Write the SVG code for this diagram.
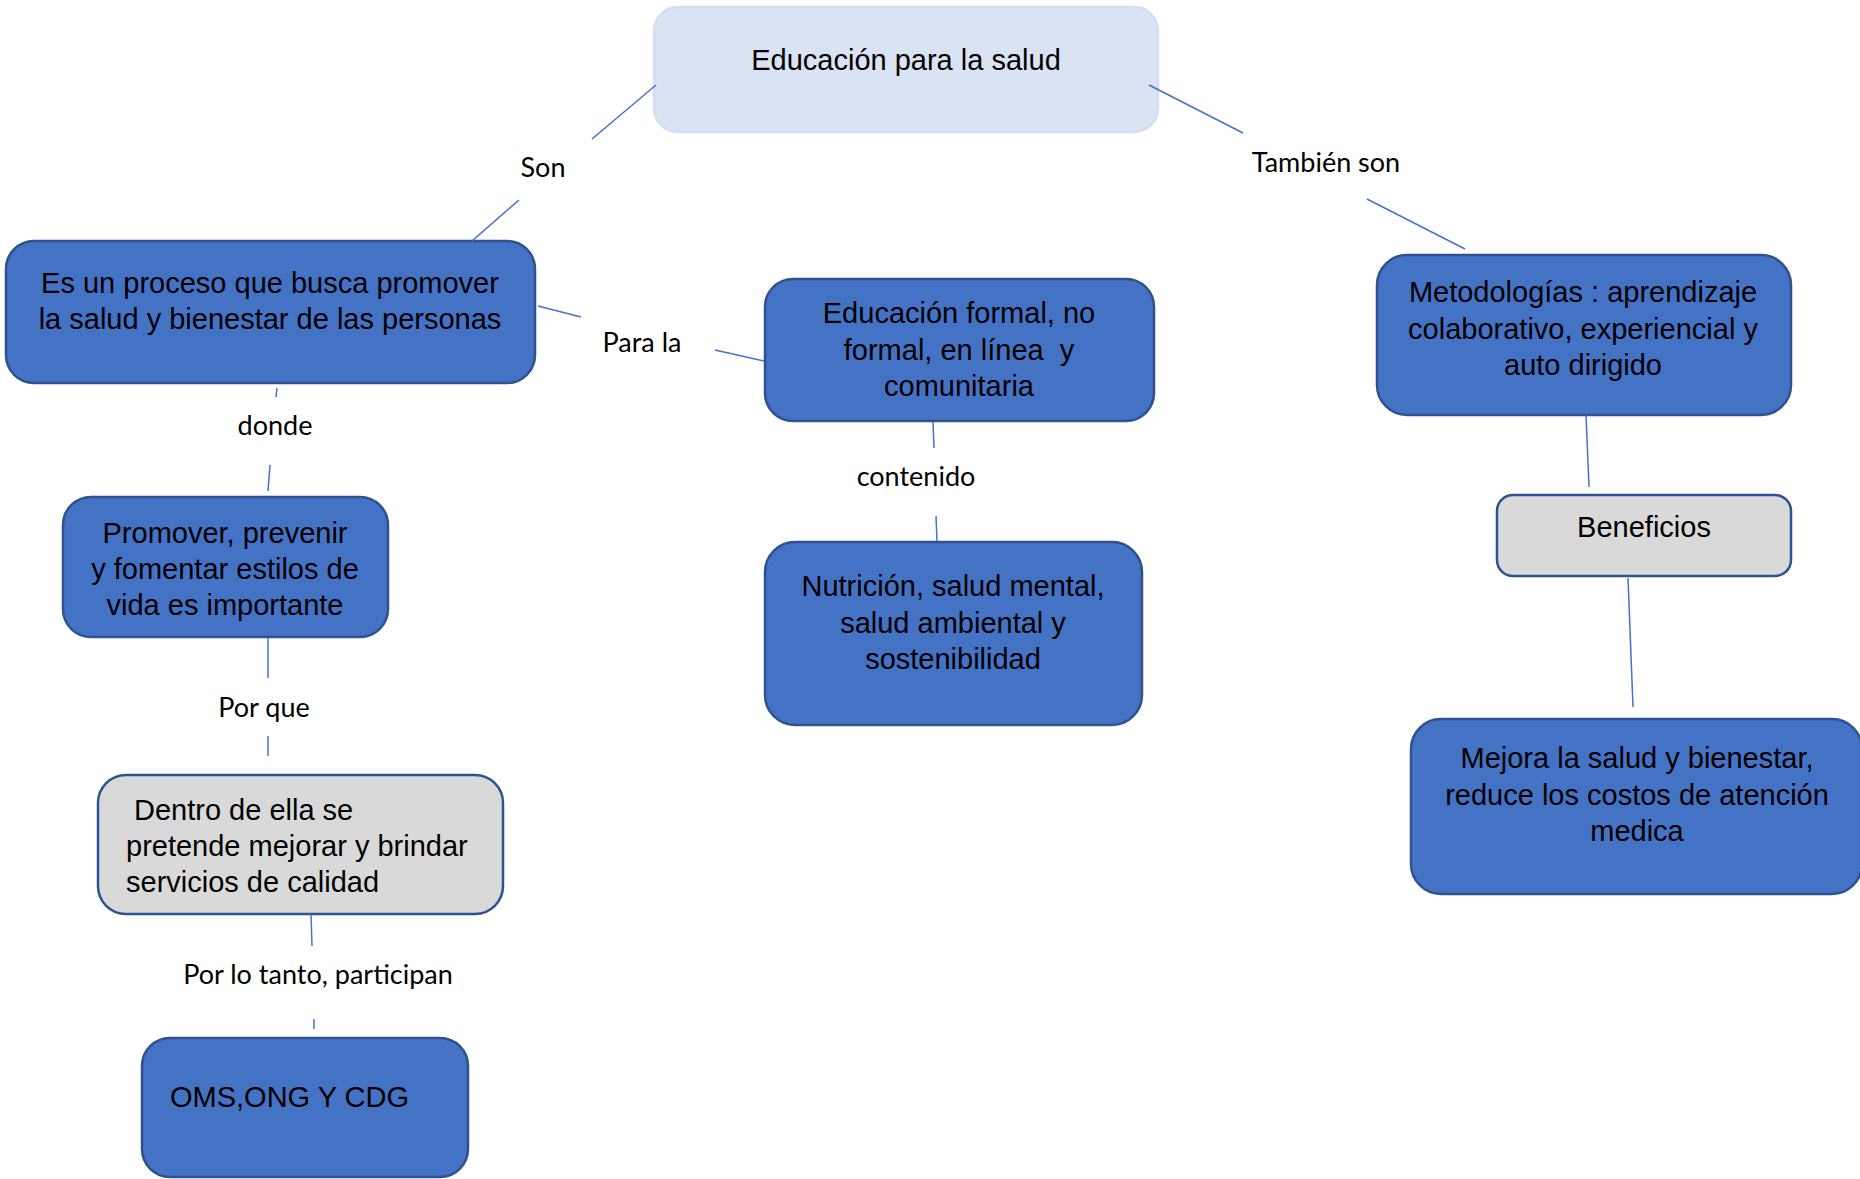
<svg xmlns="http://www.w3.org/2000/svg" width="1860" height="1179" viewBox="0 0 1860 1179">
<style>
.box{fill:#4472c4;stroke:#2f528f;stroke-width:2.5}
.gray{fill:#d9d9d9;stroke:#2f528f;stroke-width:2.5}
.top{fill:#dae3f3;stroke:#d3def2;stroke-width:2.5}
.t{font-family:"Liberation Sans",Arial,sans-serif;font-size:29px;fill:#000;text-anchor:middle}
.ts{font-family:"Liberation Sans",Arial,sans-serif;font-size:29px;fill:#000}
.lbl{font-family:Lato,"Open Sans",sans-serif;font-size:27px;fill:#000;text-anchor:middle}
.c line{stroke:#4472c4;stroke-width:1.5}
</style>
<rect width="1860" height="1179" fill="#fff"/>
<g id="labels">
<text class="lbl" x="543" y="177">Son</text>
<text class="lbl" x="1326" y="172">También son</text>
<text class="lbl" x="642" y="352">Para la</text>
<text class="lbl" x="275" y="435">donde</text>
<text class="lbl" x="264" y="717">Por que</text>
<text class="lbl" x="318" y="984">Por lo tanto, participan</text>
<text class="lbl" x="916" y="486">contenido</text>
</g>
<g id="n1">
<rect class="top" x="654" y="7" width="504" height="125" rx="24"/>
<text class="t" x="906" y="70">Educación para la salud</text>
</g>
<g id="n2">
<rect class="box" x="6" y="241" width="529" height="142" rx="28"/>
<text class="t" x="270" y="293">Es un proceso que busca promover</text>
<text class="t" x="270" y="329">la salud y bienestar de las personas</text>
</g>
<g id="n3">
<rect class="box" x="63" y="497" width="325" height="140" rx="28"/>
<text class="t" x="225" y="543">Promover, prevenir</text>
<text class="t" x="225" y="579">y fomentar estilos de</text>
<text class="t" x="225" y="615">vida es importante</text>
</g>
<g id="n4">
<rect class="gray" x="98" y="775" width="405" height="139" rx="28"/>
<text class="ts" x="134" y="820">Dentro de ella se</text>
<text class="ts" x="126" y="856">pretende mejorar y brindar</text>
<text class="ts" x="126" y="892">servicios de calidad</text>
</g>
<g id="n5">
<rect class="box" x="142" y="1038" width="326" height="139" rx="28"/>
<text class="ts" x="170" y="1107">OMS,ONG Y CDG</text>
</g>
<g id="n6">
<rect class="box" x="765" y="279" width="389" height="142" rx="28"/>
<text class="t" x="959" y="323">Educación formal, no</text>
<text class="t" x="959" y="360" xml:space="preserve">formal, en línea  y</text>
<text class="t" x="959" y="396">comunitaria</text>
</g>
<g id="n7">
<rect class="box" x="765" y="542" width="377" height="183" rx="30"/>
<text class="t" x="953" y="596">Nutrición, salud mental,</text>
<text class="t" x="953" y="633">salud ambiental y</text>
<text class="t" x="953" y="669">sostenibilidad</text>
</g>
<g id="n8">
<rect class="box" x="1377" y="255" width="414" height="160" rx="30"/>
<text class="t" x="1583" y="302">Metodologías : aprendizaje</text>
<text class="t" x="1583" y="339">colaborativo, experiencial y</text>
<text class="t" x="1583" y="375">auto dirigido</text>
</g>
<g id="n9">
<rect class="gray" x="1497" y="495" width="294" height="81" rx="16"/>
<text class="t" x="1644" y="537">Beneficios</text>
</g>
<g id="n10">
<rect class="box" x="1411" y="719" width="451" height="175" rx="30"/>
<text class="t" x="1637" y="768">Mejora la salud y bienestar,</text>
<text class="t" x="1637" y="805">reduce los costos de atención</text>
<text class="t" x="1637" y="841">medica</text>
</g>
<g class="c" id="connectors">
<line x1="656" y1="85" x2="592" y2="139"/>
<line x1="519" y1="200" x2="472" y2="241"/>
<line x1="1149" y1="85" x2="1243" y2="133"/>
<line x1="1367" y1="199" x2="1465" y2="249"/>
<line x1="538" y1="306" x2="581" y2="317"/>
<line x1="715" y1="350" x2="764" y2="361"/>
<line x1="277" y1="388" x2="276" y2="397"/>
<line x1="270" y1="465" x2="268" y2="491"/>
<line x1="268" y1="638" x2="268" y2="678"/>
<line x1="268" y1="736" x2="268" y2="756"/>
<line x1="311" y1="914" x2="312" y2="946"/>
<line x1="314" y1="1019" x2="314" y2="1029"/>
<line x1="933" y1="422" x2="934" y2="448"/>
<line x1="936" y1="516" x2="937" y2="541"/>
<line x1="1586" y1="415" x2="1589" y2="487"/>
<line x1="1628" y1="578" x2="1633" y2="707"/>
</g>
</svg>
